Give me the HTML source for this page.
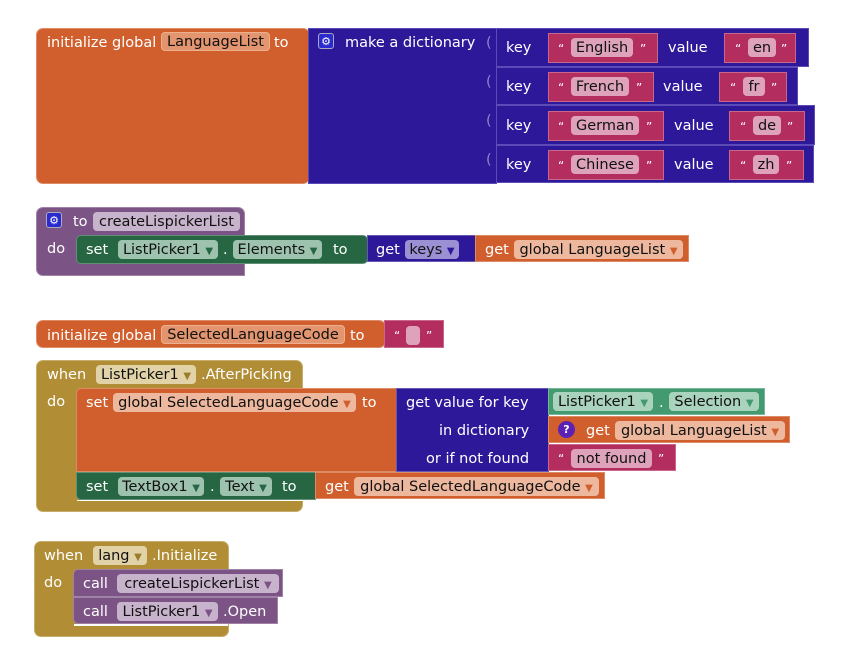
<!DOCTYPE html>
<html><head><meta charset="utf-8"><style>
body{margin:0;width:850px;height:665px;background:#fff;position:relative;overflow:hidden;font-family:"DejaVu Sans","Liberation Sans",sans-serif;font-size:14.5px}
.b{position:absolute;box-sizing:border-box;border:1px solid rgba(255,255,255,0.28)}
.t{position:absolute;color:#fff;white-space:nowrap;line-height:20px;height:20px;transform:translateY(1px)}
.p{position:absolute;border-radius:4px;color:#111;text-align:center;line-height:20px;height:19px;white-space:nowrap;box-sizing:border-box}
.o{background:#D05F2D}.i{background:#2D1899}.k{background:#B32D5E}.u{background:#7C5385}.g{background:#266643}.lg{background:#439A70}.y{background:#B18E35}
.po{background:#E3956F;border:1px solid #EDB08F;line-height:18px}.pg{background:#EDB89E}.pk{background:#DEA3BA}.pu{background:#C8B3CC}.pgr{background:#9DC3AF}.plg{background:#A9D3BD}.py{background:#E1D3A7}.pi{background:#9B90D4}
.ar{font-size:10px;color:inherit}
.q{position:absolute;color:#fff;font-size:12px;line-height:20px;transform:translateY(1px)}
.gear{position:absolute;width:16px;height:16px;background:#2a2ad0;border:1px solid #aab;border-radius:3px;color:#fff;font-size:11px;line-height:15px;text-align:center;box-sizing:border-box}
</style></head><body>

<!-- Block 1 -->
<div class="b o" style="left:36px;top:28px;width:274px;height:156px;border-radius:7px"></div>
<div class="t" style="left:47px;top:32px">initialize global</div>
<div class="p po" style="left:161px;top:32px;width:109px">LanguageList</div>
<div class="t" style="left:274px;top:32px">to</div>
<div class="b i" style="left:308px;top:28px;width:189px;height:156px;border-color:#5a4bb8"></div>
<div class="gear" style="left:318px;top:33px">⚙</div>
<div class="t" style="left:345px;top:32px">make a dictionary</div>
<div class="t" style="left:486px;top:32px;color:#8f86c8">(</div>
<div class="t" style="left:486px;top:71px;color:#8f86c8">(</div>
<div class="t" style="left:486px;top:110px;color:#8f86c8">(</div>
<div class="t" style="left:486px;top:149px;color:#8f86c8">(</div>

<div class="b i" style="left:496px;top:28px;width:313px;height:39px;border-color:#5a4bb8"></div>
<div class="b i" style="left:496px;top:67px;width:302px;height:38px;border-color:#5a4bb8"></div>
<div class="b i" style="left:496px;top:105px;width:319px;height:40px;border-color:#5a4bb8"></div>
<div class="b i" style="left:496px;top:145px;width:318px;height:38px;border-color:#5a4bb8"></div>

<div class="t" style="left:506px;top:37px">key</div>
<div class="b k" style="left:548px;top:33px;width:110px;height:30px"></div>
<div class="q" style="left:558px;top:38px">“</div><div class="p pk" style="left:571px;top:38px;width:62px">English</div><div class="q" style="left:640px;top:38px">”</div>
<div class="t" style="left:668px;top:37px">value</div>
<div class="b k" style="left:724px;top:33px;width:72px;height:30px"></div>
<div class="q" style="left:735px;top:38px">“</div><div class="p pk" style="left:748px;top:38px;width:28px">en</div><div class="q" style="left:781px;top:38px">”</div>

<div class="t" style="left:506px;top:76px">key</div>
<div class="b k" style="left:548px;top:72px;width:106px;height:30px"></div>
<div class="q" style="left:558px;top:77px">“</div><div class="p pk" style="left:571px;top:77px;width:58px">French</div><div class="q" style="left:636px;top:77px">”</div>
<div class="t" style="left:663px;top:76px">value</div>
<div class="b k" style="left:719px;top:72px;width:68px;height:30px"></div>
<div class="q" style="left:730px;top:77px">“</div><div class="p pk" style="left:743px;top:77px;width:22px">fr</div><div class="q" style="left:771px;top:77px">”</div>

<div class="t" style="left:506px;top:115px">key</div>
<div class="b k" style="left:548px;top:111px;width:116px;height:30px"></div>
<div class="q" style="left:558px;top:116px">“</div><div class="p pk" style="left:571px;top:116px;width:68px">German</div><div class="q" style="left:646px;top:116px">”</div>
<div class="t" style="left:674px;top:115px">value</div>
<div class="b k" style="left:729px;top:111px;width:76px;height:30px"></div>
<div class="q" style="left:740px;top:116px">“</div><div class="p pk" style="left:753px;top:116px;width:28px">de</div><div class="q" style="left:787px;top:116px">”</div>

<div class="t" style="left:506px;top:154px">key</div>
<div class="b k" style="left:548px;top:150px;width:116px;height:30px"></div>
<div class="q" style="left:558px;top:155px">“</div><div class="p pk" style="left:571px;top:155px;width:68px">Chinese</div><div class="q" style="left:646px;top:155px">”</div>
<div class="t" style="left:674px;top:154px">value</div>
<div class="b k" style="left:729px;top:150px;width:75px;height:30px"></div>
<div class="q" style="left:740px;top:155px">“</div><div class="p pk" style="left:753px;top:155px;width:26px">zh</div><div class="q" style="left:786px;top:155px">”</div>

<!-- Block 2 -->
<div class="b u" style="left:36px;top:207px;width:209px;height:68px;border-radius:7px"></div>
<div class="gear" style="left:46px;top:212px">⚙</div>
<div class="t" style="left:73px;top:211px">to</div>
<div class="p pu" style="left:93px;top:212px;width:147px">createLispickerList</div>
<div class="t" style="left:47px;top:238px">do</div>
<div style="position:absolute;left:76px;top:264px;width:169px;height:12px;background:#fff"></div>
<div class="b u" style="left:36px;top:264px;width:209px;height:12px;border-radius:0 0 0 7px;border-top:none"></div>
<div class="b g" style="left:76px;top:235px;width:292px;height:29px;border-radius:5px"></div>
<div class="t" style="left:86px;top:239px">set</div>
<div class="p pgr" style="left:118px;top:240px;width:100px">ListPicker1 <span class="ar" style="color:#266643">▼</span></div>
<div class="t" style="left:223px;top:239px">.</div>
<div class="p pgr" style="left:233px;top:240px;width:89px">Elements <span class="ar" style="color:#266643">▼</span></div>
<div class="t" style="left:333px;top:239px">to</div>
<div class="b i" style="left:367px;top:235px;width:109px;height:27px"></div>
<div class="t" style="left:376px;top:239px">get</div>
<div class="p pi" style="left:405px;top:240px;width:54px">keys <span class="ar" style="color:#2D1899">▼</span></div>
<div class="b o" style="left:475px;top:235px;width:214px;height:27px"></div>
<div class="t" style="left:485px;top:239px">get</div>
<div class="p pg" style="left:514px;top:240px;width:169px">global LanguageList <span class="ar" style="color:#D05F2D">▼</span></div>

<!-- Block 3 -->
<div class="b o" style="left:36px;top:320px;width:350px;height:28px;border-radius:7px"></div>
<div class="t" style="left:47px;top:325px">initialize global</div>
<div class="p po" style="left:161px;top:325px;width:184px">SelectedLanguageCode</div>
<div class="t" style="left:350px;top:325px">to</div>
<div class="b k" style="left:384px;top:320px;width:60px;height:28px"></div>
<div class="q" style="left:394px;top:325px">“</div><div class="p pk" style="left:406px;top:326px;width:14px"></div><div class="q" style="left:426px;top:325px">”</div>

<!-- Block 4 -->
<div class="b y" style="left:36px;top:360px;width:267px;height:152px;border-radius:7px"></div>
<div class="t" style="left:47px;top:364px">when</div>
<div class="p py" style="left:96px;top:365px;width:100px">ListPicker1 <span class="ar" style="color:#9a7c2a">▼</span></div>
<div class="t" style="left:201px;top:364px">.AfterPicking</div>
<div class="t" style="left:47px;top:391px">do</div>
<div class="b o" style="left:76px;top:388px;width:322px;height:84px;border-radius:5px 0 0 0"></div>
<div class="t" style="left:86px;top:392px">set</div>
<div class="p pg" style="left:113px;top:393px;width:243px">global SelectedLanguageCode <span class="ar" style="color:#D05F2D">▼</span></div>
<div class="t" style="left:362px;top:392px">to</div>
<div class="b i" style="left:396px;top:388px;width:153px;height:84px"></div>
<div class="t" style="left:406px;top:392px">get value for key</div>
<div class="t" style="left:439px;top:420px">in dictionary</div>
<div class="t" style="left:426px;top:448px">or if not found</div>
<div class="b lg" style="left:548px;top:388px;width:217px;height:27px"></div>
<div class="p plg" style="left:553px;top:392px;width:100px">ListPicker1 <span class="ar" style="color:#439A70">▼</span></div>
<div class="t" style="left:659px;top:392px">.</div>
<div class="p plg" style="left:669px;top:392px;width:90px">Selection <span class="ar" style="color:#439A70">▼</span></div>
<div class="b o" style="left:548px;top:416px;width:242px;height:27px"></div>
<div style="position:absolute;left:558px;top:421px;width:17px;height:17px;border-radius:50%;background:#5B21B6;color:#fff;font-size:11px;font-weight:bold;text-align:center;line-height:17px">?</div>
<div class="t" style="left:586px;top:420px">get</div>
<div class="p pg" style="left:615px;top:421px;width:170px">global LanguageList <span class="ar" style="color:#D05F2D">▼</span></div>
<div class="b k" style="left:548px;top:444px;width:128px;height:27px"></div>
<div class="q" style="left:558px;top:448px">“</div><div class="p pk" style="left:571px;top:449px;width:81px">not found</div><div class="q" style="left:658px;top:448px">”</div>
<div class="b g" style="left:76px;top:472px;width:240px;height:28px;border-radius:0 0 0 5px"></div>
<div class="t" style="left:86px;top:476px">set</div>
<div class="p pgr" style="left:118px;top:477px;width:86px">TextBox1 <span class="ar" style="color:#266643">▼</span></div>
<div class="t" style="left:210px;top:476px">.</div>
<div class="p pgr" style="left:220px;top:477px;width:52px">Text <span class="ar" style="color:#266643">▼</span></div>
<div class="t" style="left:282px;top:476px">to</div>
<div class="b o" style="left:315px;top:472px;width:290px;height:27px"></div>
<div class="t" style="left:325px;top:476px">get</div>
<div class="p pg" style="left:354px;top:477px;width:245px">global SelectedLanguageCode <span class="ar" style="color:#D05F2D">▼</span></div>
<div style="position:absolute;left:77px;top:500px;width:226px;height:1px;background:#fff"></div>

<!-- Block 5 -->
<div class="b y" style="left:34px;top:541px;width:195px;height:96px;border-radius:7px"></div>
<div class="t" style="left:44px;top:545px">when</div>
<div class="p py" style="left:93px;top:546px;width:54px">lang <span class="ar" style="color:#9a7c2a">▼</span></div>
<div class="t" style="left:152px;top:545px">.Initialize</div>
<div class="t" style="left:44px;top:572px">do</div>
<div style="position:absolute;left:74px;top:624px;width:154px;height:2px;background:#fff"></div>
<div class="b u" style="left:73px;top:569px;width:210px;height:28px;border-radius:5px 0 0 0"></div>
<div class="t" style="left:83px;top:573px">call</div>
<div class="p pu" style="left:117px;top:574px;width:162px">createLispickerList <span class="ar" style="color:#7C5385">▼</span></div>
<div class="b u" style="left:73px;top:597px;width:205px;height:27px;border-radius:0 0 0 5px"></div>
<div class="t" style="left:83px;top:601px">call</div>
<div class="p pu" style="left:117px;top:602px;width:101px">ListPicker1 <span class="ar" style="color:#7C5385">▼</span></div>
<div class="t" style="left:223px;top:601px">.Open</div>

</body></html>
